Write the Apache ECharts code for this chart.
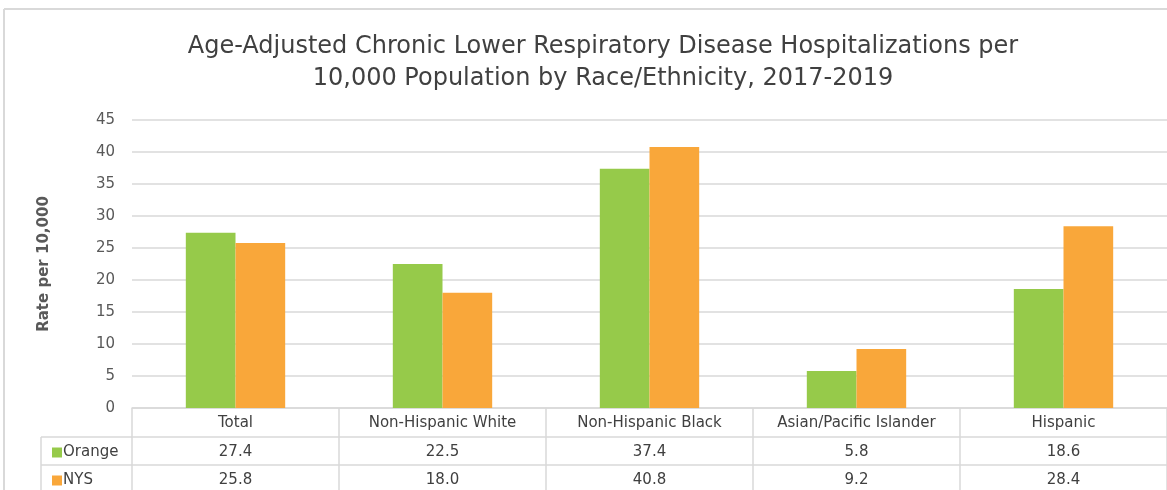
<!DOCTYPE html>
<html>
<head>
<meta charset="utf-8">
<script src="https://cdn.jsdelivr.net/npm/echarts@6/dist/echarts.min.js"></script>
<style>
html,body{margin:0;padding:0;background:#fff;}
#c{width:1167px;height:490px;}
</style>
</head>
<body>
<div id="c"></div>
<script>
const categories = ['Total', 'Non-Hispanic White', 'Non-Hispanic Black', 'Asian/Pacific Islander', 'Hispanic'];
const orangeValues = [27.4, 22.5, 37.4, 5.8, 18.6];
const nysValues = [25.8, 18.0, 40.8, 9.2, 28.4];
const seriesNames = ['Orange', 'NYS'];
const yTicks = [0, 5, 10, 15, 20, 25, 30, 35, 40, 45];

const GREEN = '#96CA4A';
const ORANGE = '#F9A73A';
const LINE = '#d9d9d9';
const TXT = '#404040';
const FONT = 'DejaVu Sans';

const chart = echarts.init(document.getElementById('c'));
const gridLeft = 132, gridBottom = 82;

function valueAxis(vals, offset) {
  return {
    type: 'category', gridIndex: 0, position: 'bottom', offset: offset,
    data: vals.map(v => v.toFixed(1)),
    axisLine: {show: true, lineStyle: {color: LINE, width: 1.5}},
    axisTick: {show: false},
    axisLabel: {color: TXT, fontFamily: FONT, fontSize: 15, margin: 8, interval: 0}
  };
}

function legendItem(name, top) {
  return {
    orient: 'vertical', left: 47, top: top,
    itemWidth: 10, itemHeight: 10, icon: 'rect',
    data: [name], selectedMode: false,
    textStyle: {color: TXT, fontFamily: FONT, fontSize: 15, padding: [0,0,0,-4]}
  };
}

chart.setOption({
  animation: false,
  backgroundColor: '#fff',
  title: {
    text: 'Age-Adjusted Chronic Lower Respiratory Disease Hospitalizations per\n10,000 Population by Race/Ethnicity, 2017-2019',
    left: 598, textAlign: 'center', top: 26,
    textStyle: {color: TXT, fontFamily: FONT, fontSize: 24, fontWeight: 'normal', lineHeight: 32}
  },
  legend: [legendItem(seriesNames[0], 440), legendItem(seriesNames[1], 468)],
  grid: {left: gridLeft, right: 0, top: 120, bottom: gridBottom},
  xAxis: [
    {
      type: 'category', data: categories, position: 'bottom',
      axisLine: {show: true, lineStyle: {color: LINE, width: 1.5}},
      axisTick: {show: true, interval: 0, length: 82, lineStyle: {color: LINE, width: 1.5}},
      axisLabel: {color: TXT, fontFamily: FONT, fontSize: 15, margin: 8, interval: 0}
    },
    valueAxis(orangeValues, 29),
    valueAxis(nysValues, 57)
  ],
  yAxis: {
    type: 'value', min: 0, max: 45, interval: 5,
    name: 'Rate per 10,000', nameLocation: 'middle', nameRotate: 90, nameGap: 80,
    nameTextStyle: {color: '#595959', fontFamily: FONT, fontSize: 15, fontWeight: 'bold'},
    axisLine: {show: false}, axisTick: {show: false},
    axisLabel: {color: '#595959', fontFamily: FONT, fontSize: 15, margin: 17,
      formatter: v => yTicks.includes(v) ? String(v) : ''},
    splitLine: {lineStyle: {color: LINE, width: 1.5}}
  },
  series: [
    {name: seriesNames[0], type: 'bar', data: orangeValues, itemStyle: {color: GREEN},
     barWidth: '24%', barGap: '0%'},
    {name: seriesNames[1], type: 'bar', data: nysValues, itemStyle: {color: ORANGE},
     barWidth: '24%', barGap: '0%'}
  ],
  graphic: [
    {type: 'line', shape: {x1: 4, y1: 9, x2: 1167, y2: 9}, style: {stroke: LINE, lineWidth: 2}, silent: true},
    {type: 'line', shape: {x1: 4, y1: 9, x2: 4, y2: 490}, style: {stroke: LINE, lineWidth: 2}, silent: true},
    {type: 'line', shape: {x1: 41, y1: 437, x2: gridLeft, y2: 437}, style: {stroke: LINE, lineWidth: 1.5}},
    {type: 'line', shape: {x1: 41, y1: 465, x2: gridLeft, y2: 465}, style: {stroke: LINE, lineWidth: 1.5}},
    {type: 'line', shape: {x1: 41, y1: 437, x2: 41, y2: 495}, style: {stroke: LINE, lineWidth: 1.5}}
  ]
});
</script>
</body>
</html>
